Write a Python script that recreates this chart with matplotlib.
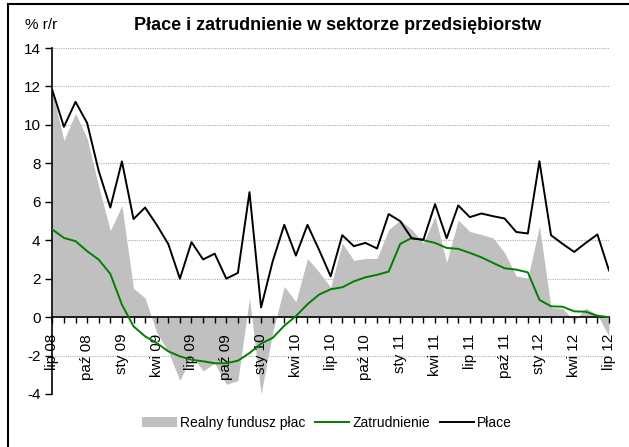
import numpy as np
import matplotlib
matplotlib.use("Agg")
import matplotlib.pyplot as plt
from matplotlib.lines import Line2D
from matplotlib.patches import Patch

plt.rcParams['font.family'] = ['Liberation Sans', 'DejaVu Sans']
plt.rcParams['axes.unicode_minus'] = False

# monthly, lip 08 .. lip 12
months = ['lip 08', 'sie 08', 'wrz 08', 'paź 08', 'lis 08', 'gru 08',
          'sty 09', 'lut 09', 'mar 09', 'kwi 09', 'maj 09', 'cze 09',
          'lip 09', 'sie 09', 'wrz 09', 'paź 09', 'lis 09', 'gru 09',
          'sty 10', 'lut 10', 'mar 10', 'kwi 10', 'maj 10', 'cze 10',
          'lip 10', 'sie 10', 'wrz 10', 'paź 10', 'lis 10', 'gru 10',
          'sty 11', 'lut 11', 'mar 11', 'kwi 11', 'maj 11', 'cze 11',
          'lip 11', 'sie 11', 'wrz 11', 'paź 11', 'lis 11', 'gru 11',
          'sty 12', 'lut 12', 'mar 12', 'kwi 12', 'maj 12', 'cze 12',
          'lip 12']

realny_fundusz = [11.7, 9.2, 10.6, 9.3, 6.8, 4.5, 5.8, 1.5, 1.0, -0.8,
                  -1.8, -3.3, -2.0, -2.8, -2.4, -3.5, -3.3, 1.0, -4.0, -0.8,
                  1.6, 0.8, 3.05, 2.35, 1.55, 3.85, 2.95, 3.05, 3.05, 4.55,
                  5.05, 4.55, 3.85, 5.25, 2.85, 5.05, 4.45, 4.3, 4.12, 3.35,
                  2.14, 2.03, 4.73, 0.5, 0.45, -0.2, 0.47, 0.12, -1.0]

zatrudnienie = [4.56, 4.12, 3.95, 3.43, 2.99, 2.25, 0.65, -0.48, -1.0, -1.35,
                -1.78, -2.04, -2.22, -2.3, -2.4, -2.4, -2.27, -1.87, -1.38, -1.08,
                -0.45, 0.05, 0.67, 1.17, 1.45, 1.55, 1.86, 2.07, 2.2, 2.37,
                3.81, 4.12, 4.0, 3.86, 3.6, 3.55, 3.34, 3.11, 2.82, 2.54,
                2.47, 2.33, 0.9, 0.56, 0.54, 0.3, 0.28, 0.07, 0.0]

place = [11.8, 9.9, 11.2, 10.1, 7.6, 5.7, 8.1, 5.1, 5.7, 4.8,
         3.8, 2.0, 3.9, 3.0, 3.3, 2.0, 2.3, 6.5, 0.5, 2.9,
         4.8, 3.2, 4.8, 3.5, 2.12, 4.26, 3.69, 3.86, 3.57, 5.36,
         4.99, 4.09, 4.03, 5.88, 4.1, 5.81, 5.2, 5.39, 5.25, 5.13,
         4.43, 4.35, 8.11, 4.26, 3.81, 3.39, 3.86, 4.3, 2.43]

x = np.arange(len(months))
yticks = np.arange(-4, 15, 2)

fig = plt.figure(figsize=(6.29, 4.47), dpi=100)
ax = fig.add_axes([0.0832, 0.1186, 0.885, 0.774])

# dotted grid below the area, tick labels above it
for yv in yticks:
    if yv != 0:
        ax.axhline(yv, color='#b0b0b0', linestyle=(0, (1, 1)), linewidth=0.8, zorder=0.1)

ax.fill_between(x, 0, realny_fundusz, color='#c0c0c0', linewidth=0,
                label='Realny fundusz płac', zorder=0.5)
ax.plot(x, zatrudnienie, color='#008000', linewidth=1.4, label='Zatrudnienie', zorder=3)
ax.plot(x, place, color='black', linewidth=1.4, label='Płace', zorder=3)

# spine position first - it resets the ticks
for s in ['top', 'right']:
    ax.spines[s].set_visible(False)
ax.spines['bottom'].set_position(('data', 0))
ax.spines['bottom'].set_linewidth(1.2)
ax.spines['left'].set_linewidth(1.2)
ax.set_axisbelow(False)

ax.set_xlim(0, len(months) - 1)
ax.set_ylim(-4, 14)
ax.set_yticks(yticks)

ax.set_xticks(x)
ax.set_xticklabels([m if i % 3 == 0 else '' for i, m in enumerate(months)])
ax.tick_params(axis='x', direction='out', length=4, width=1, pad=8,
               labelsize=11, labelrotation=90)
ax.tick_params(axis='y', direction='out', length=5, width=1, labelsize=11)

fig.text(0.04, 0.943, '% r/r', fontsize=11, ha='left', va='center')
fig.text(0.537, 0.943, 'Płace i zatrudnienie w sektorze przedsiębiorstw',
         fontsize=13, fontweight='bold', ha='center', va='center')

handles = [Patch(facecolor='#c0c0c0', edgecolor='none'),
           Line2D([], [], color='#008000', linewidth=1.4),
           Line2D([], [], color='black', linewidth=1.4)]
fig.legend(handles, ['Realny fundusz płac', 'Zatrudnienie', 'Płace'],
           loc='center', bbox_to_anchor=(0.52, 0.054), ncol=3, frameon=False,
           fontsize=10, handlelength=2.5, handletextpad=0.2, columnspacing=0.7)

# frame (right and bottom edge cut off in the original)
fig.add_artist(Line2D([0.0127, 0.0127], [0.0, 0.991], color='black', linewidth=1.5))
fig.add_artist(Line2D([0.0127, 1.0], [0.991, 0.991], color='black', linewidth=1.5))

fig.savefig('out.png', dpi=100)
